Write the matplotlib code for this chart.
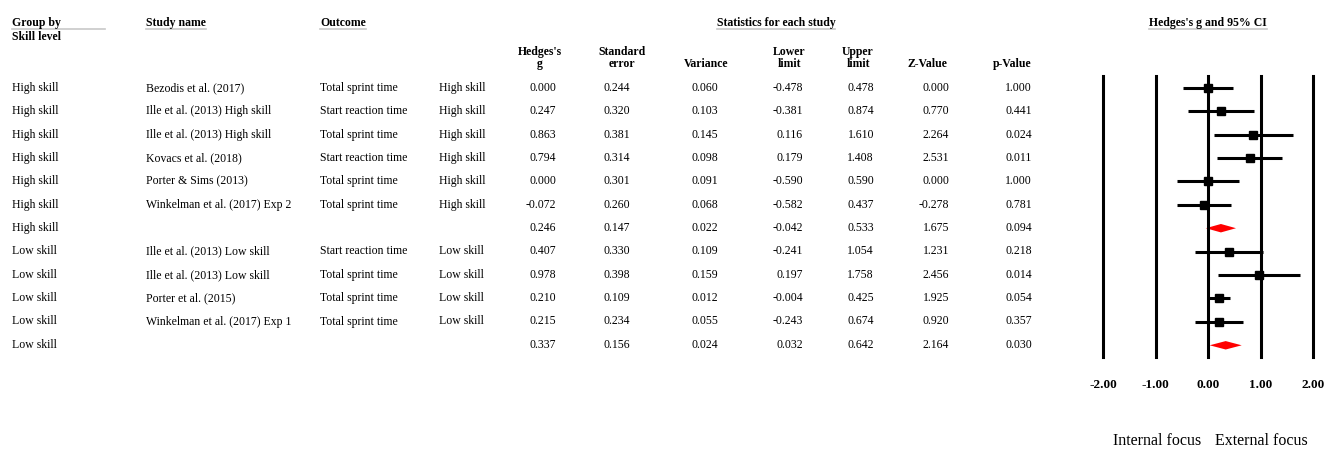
import matplotlib.pyplot as plt
import numpy as np

plt.rcParams['font.family'] = ['Liberation Serif', 'DejaVu Serif']

group = ['High skill'] * 7 + ['Low skill'] * 5
study = ['Bezodis et al. (2017)', 'Ille et al. (2013) High skill', 'Ille et al. (2013) High skill',
         'Kovacs et al. (2018)', 'Porter & Sims (2013)', 'Winkelman et al. (2017) Exp 2', '',
         'Ille et al. (2013) Low skill', 'Ille et al. (2013) Low skill', 'Porter et al. (2015)',
         'Winkelman et al. (2017) Exp 1', '']
outcome = ['Total sprint time', 'Start reaction time', 'Total sprint time', 'Start reaction time',
           'Total sprint time', 'Total sprint time', '',
           'Start reaction time', 'Total sprint time', 'Total sprint time', 'Total sprint time', '']
skill = ['High skill'] * 6 + [''] + ['Low skill'] * 4 + ['']
hedges_g = [0.000, 0.247, 0.863, 0.794, 0.000, -0.072, 0.246, 0.407, 0.978, 0.210, 0.215, 0.337]
std_err = [0.244, 0.320, 0.381, 0.314, 0.301, 0.260, 0.147, 0.330, 0.398, 0.109, 0.234, 0.156]
variance = [0.060, 0.103, 0.145, 0.098, 0.091, 0.068, 0.022, 0.109, 0.159, 0.012, 0.055, 0.024]
lower = [-0.478, -0.381, 0.116, 0.179, -0.590, -0.582, -0.042, -0.241, 0.197, -0.004, -0.243, 0.032]
upper = [0.478, 0.874, 1.610, 1.408, 0.590, 0.437, 0.533, 1.054, 1.758, 0.425, 0.674, 0.642]
z_val = [0.000, 0.770, 2.264, 2.531, 0.000, -0.278, 1.675, 1.231, 2.456, 1.925, 0.920, 2.164]
p_val = [1.000, 0.441, 0.024, 0.011, 1.000, 0.781, 0.094, 0.218, 0.014, 0.054, 0.357, 0.030]
summary = [False] * 6 + [True] + [False] * 4 + [True]
ticks = [-2, -1, 0, 1, 2]

W, H = 1332, 450
fig = plt.figure(figsize=(W / 100, H / 100), dpi=100)
bg = fig.add_axes([0, 0, 1, 1])
bg.set_xlim(0, W)
bg.set_ylim(H, 0)
bg.axis('off')

fs = 8.5
row0, dy = 87, 23.35
ul = '#c8c8c8'
r = fig.canvas.get_renderer()

def head(x, y, s, ha='left', line_to=None):
    t = bg.text(x, y, s, fontsize=fs, fontweight='bold', va='baseline', ha=ha)
    bb = t.get_window_extent(r)
    x_a, x_b = bb.x0, bb.x1
    if line_to is not None:
        x_b = line_to
    bg.plot([x_a, x_b], [y + 3, y + 3], color=ul, lw=1.2)

# headers
head(12, 26, 'Group by', line_to=105)
bg.text(12, 40, 'Skill level', fontsize=fs, fontweight='bold', va='baseline')
head(146, 26, 'Study name')
head(320, 26, 'Outcome')
head(776, 26, 'Statistics for each study', ha='center')
head(1208, 26, "Hedges's g and 95% CI", ha='center')

col_head = [("Hedges's\ng", 540), ('Standard\nerror', 622), ('Variance', 706), ('Lower\nlimit', 789),
            ('Upper\nlimit', 858), ('Z-Value', 927), ('p-Value', 1012)]
for lab, cx in col_head:
    bg.text(cx, 67, lab, fontsize=fs, fontweight='bold', ha='center', va='baseline', linespacing=1.0)

cols = [hedges_g, std_err, variance, lower, upper, z_val, p_val]
rights = [556, 630, 718, 803, 874, 949, 1032]
for i in range(len(group)):
    y = row0 + dy * i + 4
    bg.text(12, y, group[i], fontsize=fs, va='baseline')
    bg.text(146, y, study[i], fontsize=fs, va='baseline')
    bg.text(320, y, outcome[i], fontsize=fs, va='baseline')
    bg.text(439, y, skill[i], fontsize=fs, va='baseline')
    for vals, rx in zip(cols, rights):
        bg.text(rx, y, '%.3f' % vals[i], fontsize=fs, va='baseline', ha='right')

# forest plot
n = len(group)
x0, x1 = 1103, 1313
ytop, ybot = 76, 357
ax = fig.add_axes([x0 / W, 1 - ybot / H, (x1 - x0) / W, (ybot - ytop) / H])
ax.set_xlim(-2, 2)
ax.set_ylim(n - 0.5, -0.5)
for t in ticks:
    ax.axvline(t, color='black', lw=2.2, clip_on=False)
for i in range(n):
    if summary[i]:
        ax.fill([lower[i], hedges_g[i], upper[i], hedges_g[i]],
                [i, i - 0.18, i, i + 0.18], color='red', lw=0)
    else:
        ax.plot([lower[i], upper[i]], [i, i], color='black', lw=2.2, solid_capstyle='butt')
        ax.plot(hedges_g[i], i, marker='s', color='black', ms=5.5)
ax.set_xticks(ticks)
ax.set_xticklabels(['%.2f' % t for t in ticks], fontsize=9.5, fontweight='bold')
ax.tick_params(axis='x', length=0, pad=16)
ax.set_yticks([])
for s in ax.spines.values():
    s.set_visible(False)
ax.set_facecolor('none')

bg.text(1157, 445, 'Internal focus', fontsize=11.5, ha='center', va='baseline')
bg.text(1261, 445, 'External focus', fontsize=11.5, ha='center', va='baseline')

fig.savefig('out.png', dpi=100)
